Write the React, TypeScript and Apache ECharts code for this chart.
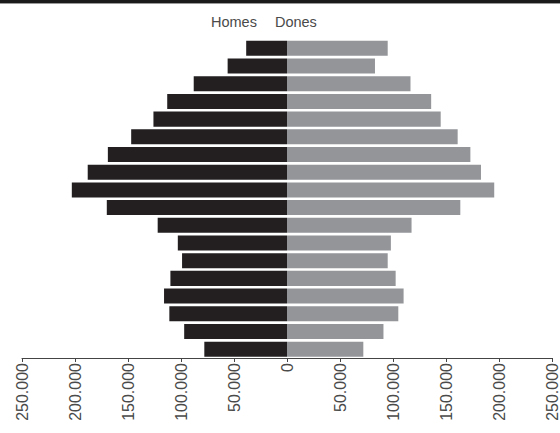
import React, { useEffect, useRef } from "react";
import * as echarts from "echarts";

const ageGroups = [
  "0-4", "5-9", "10-14", "15-19", "20-24", "25-29", "30-34", "35-39", "40-44",
  "45-49", "50-54", "55-59", "60-64", "65-69", "70-74", "75-79", "80-84", "85+",
];
// values in people, bottom (youngest) to top (oldest)
const homes = [
  78000, 97000, 111000, 116000, 110000, 99000, 103000, 122000, 170000,
  203000, 188000, 169000, 147000, 126000, 113000, 88000, 56000, 38500,
];
const dones = [
  72000, 91000, 105000, 110000, 102500, 95000, 98000, 117500, 163500,
  195500, 183000, 173000, 161000, 145000, 136000, 116500, 83000, 95000,
];
const seriesNames = ["Homes", "Dones"];

const fmt = (v: number) => {
  const a = Math.abs(v);
  if (a === 0) return "0";
  const s = String(a);
  return s.replace(/\B(?=(\d{3})+(?!\d))/g, ".");
};

export default function App() {
  const ref = useRef<HTMLDivElement>(null);
  useEffect(() => {
    if (!ref.current) return;
    const chart = echarts.init(ref.current, null, { renderer: "svg" });
    chart.setOption({
      animation: false,
      backgroundColor: "#ffffff",
      textStyle: { fontFamily: "Liberation Sans, Arial, sans-serif" },
      graphic: [
        { type: "rect", left: 0, top: 0, shape: { width: 560, height: 3 }, style: { fill: "#1a1a1a" } },
        { type: "rect", left: 0, top: 3, shape: { width: 560, height: 1 }, style: { fill: "#9a9a9a" } },
      ],
      legend: {
        data: seriesNames,
        left: 201,
        top: 9,
        itemWidth: 0,
        itemHeight: 0,
        itemGap: 13,
        textStyle: { fontSize: 14.5, color: "#4a4a4a", fontFamily: "Liberation Sans, Arial, sans-serif" },
      },
      grid: { left: 22, right: 7, top: 39.5, bottom: 75, containLabel: false },
      xAxis: {
        type: "value",
        min: -250000,
        max: 250000,
        interval: 50000,
        splitLine: { show: false },
        axisLine: { show: true, lineStyle: { color: "#444", width: 1 } },
        axisTick: { show: true, length: 4, lineStyle: { color: "#444" } },
        axisLabel: {
          rotate: 90,
          margin: 5,
          fontSize: 16,
          color: "#4a4a4a",
          fontFamily: "Liberation Sans, Arial, sans-serif",
          formatter: (v: number) => fmt(v),
        },
      },
      yAxis: {
        type: "category",
        data: ageGroups,
        show: false,
      },
      series: [
        {
          name: seriesNames[0],
          type: "bar",
          data: homes.map((v) => -v),
          barGap: "-100%",
          barCategoryGap: "15%",
          itemStyle: { color: "#231f20" },
        },
        {
          name: seriesNames[1],
          type: "bar",
          data: dones,
          barGap: "-100%",
          barCategoryGap: "15%",
          itemStyle: { color: "#939598" },
        },
      ],
    });
    return () => chart.dispose();
  }, []);
  return (
    <div
      ref={ref}
      style={{ position: "absolute", left: 0, top: 0, width: 560, height: 433 }}
    />
  );
}
